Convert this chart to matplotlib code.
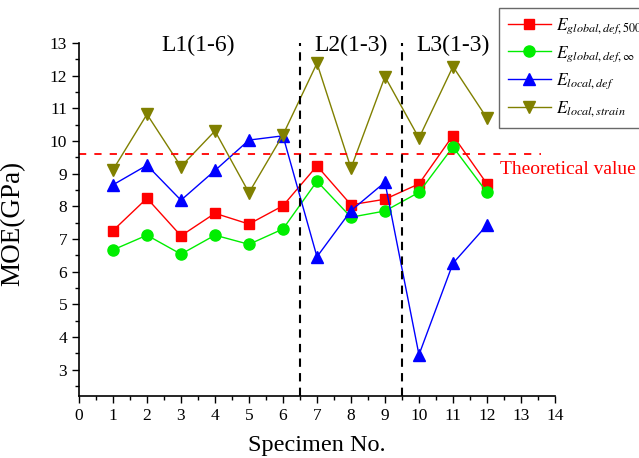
import matplotlib
matplotlib.use("Agg")
import matplotlib.pyplot as plt
from matplotlib.ticker import MultipleLocator

plt.rcParams["font.family"] = "Liberation Serif"
plt.rcParams["mathtext.fontset"] = "stix"

specimen = [1, 2, 3, 4, 5, 6, 7, 8, 9, 10, 11, 12]
e_global_500 = [7.26, 8.25, 7.10, 7.79, 7.46, 8.02, 9.24, 8.05, 8.22, 8.69, 10.17, 8.69]
e_global_inf = [6.67, 7.12, 6.54, 7.12, 6.84, 7.31, 8.77, 7.67, 7.86, 8.43, 9.82, 8.43]
e_local_def = [8.66, 9.26, 8.19, 9.10, 10.03, 10.16, 6.46, 7.87, 8.74, 3.46, 6.26, 7.43]
e_local_strain = [9.12, 10.82, 9.22, 10.31, 8.42, 10.19, 12.38, 9.17, 11.97, 10.09, 12.28, 10.70]
theoretical = 9.6
group_bounds = [6.5, 9.5]
group_labels = ["L1(1-6)", "L2(1-3)", "L3(1-3)"]
group_label_x = [3.5, 8.0, 11.0]

fig = plt.figure(figsize=(6.39, 4.58), dpi=100)
ax = fig.add_axes([0.1236, 0.1354, 0.7449, 0.7707])

ax.plot(specimen, e_global_500, color="red", marker="s", ms=7, lw=1,
        label=r"$E_{global,def,500}$")
ax.plot(specimen, e_global_inf, color="#00ee00", marker="o", ms=8, lw=1,
        label=r"$E_{global,def,\infty}$")
ax.plot(specimen, e_local_def, color="blue", marker="^", ms=8, lw=1,
        label=r"$E_{local,def}$")
ax.plot(specimen, e_local_strain, color="#808000", marker="v", ms=8, lw=1,
        label=r"$E_{local,strain}$")

ax.hlines(theoretical, 0, 13.6, color="red", ls=(0, (4, 4.5)), lw=1.3)
for b in group_bounds:
    ax.axvline(b, color="black", ls=(0, (4, 3)), lw=1.5)

for x, t in zip(group_label_x, group_labels):
    ax.text(x, 12.93, t, ha="center", va="center", fontsize=17)

ax.text(12.38, 9.12, "Theoretical value", color="red", fontsize=14,
        ha="left", va="center", clip_on=False)

ax.set_xlim(0, 14)
ax.set_ylim(2.2, 13)
ax.xaxis.set_major_locator(MultipleLocator(1))
ax.xaxis.set_minor_locator(MultipleLocator(0.5))
ax.yaxis.set_minor_locator(MultipleLocator(0.5))
ax.set_yticks(range(3, 14))
ax.tick_params(which="major", length=5, width=1, labelsize=12.5, direction="out")
ax.tick_params(which="minor", length=3, width=1, direction="out")
for s in ["top", "right"]:
    ax.spines[s].set_visible(False)
for s in ["left", "bottom"]:
    ax.spines[s].set_linewidth(1.2)

ax.set_xlabel("Specimen No.", fontsize=17.5, labelpad=8)
ax.set_ylabel("MOE(GPa)", fontsize=19.5)
ax.yaxis.set_label_coords(-0.113, 0.49)

leg = fig.legend(loc="upper left", bbox_to_anchor=(0.781, 0.9825),
                 fontsize=12.5, frameon=True, fancybox=False, edgecolor="#444444",
                 borderaxespad=0, handlelength=2.5, labelspacing=0.45,
                 handletextpad=0.3, borderpad=0.5)
leg.get_frame().set_linewidth(1.0)

fig.savefig("out.png", dpi=100)
